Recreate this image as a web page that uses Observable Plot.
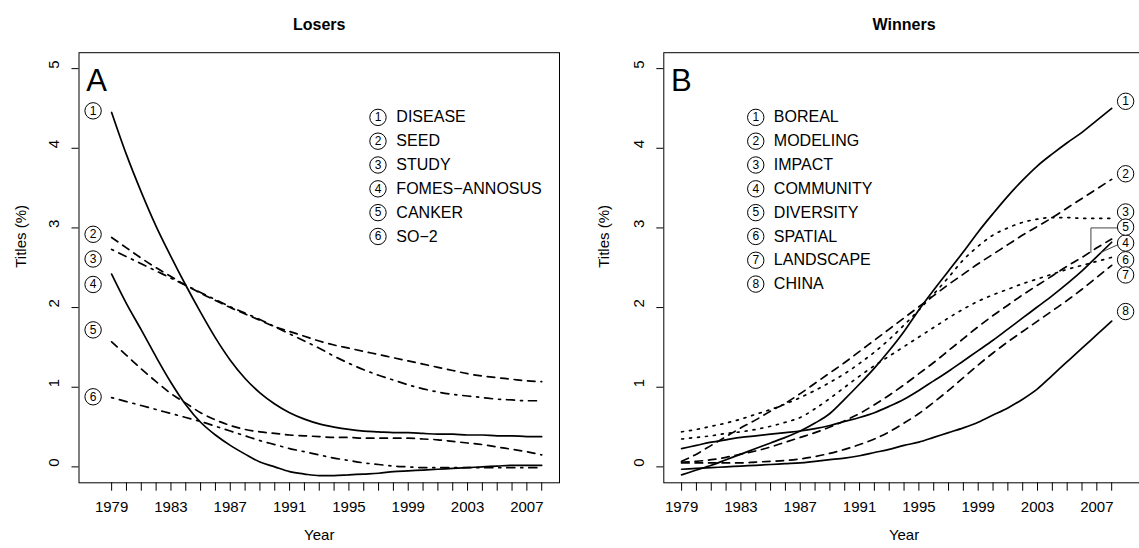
<!DOCTYPE html>
<html><head><meta charset="utf-8">
<script src="https://cdn.jsdelivr.net/npm/d3@7"></script>
<script src="https://cdn.jsdelivr.net/npm/@observablehq/plot@0.6"></script>
<style>
html,body{margin:0;padding:0;background:#fff;overflow:hidden;}
#wrap{position:relative;width:1139px;height:548px;overflow:hidden;background:#fff;}
#wrap svg{position:absolute;top:0;max-width:none;}
</style></head><body><div id="wrap"></div>
<script>
// ---------- data ----------
const years = [1979,1980,1981,1982,1983,1984,1985,1986,1987,1988,1989,1990,1991,1992,1993,1994,1995,1996,1997,1998,1999,2000,2001,2002,2003,2004,2005,2006,2007,2008];
const xTickLabels = [1979,1983,1987,1991,1995,1999,2003,2007];
const yTicks = [0,1,2,3,4,5];

// Losers (panel A)
const loserNames = ["DISEASE","SEED","STUDY","FOMES\u2212ANNOSUS","CANKER","SO\u22122"];
const disease = [4.45,3.92,3.45,3.02,2.64,2.28,1.94,1.62,1.34,1.11,0.93,0.79,0.68,0.60,0.54,0.50,0.47,0.45,0.44,0.43,0.43,0.42,0.41,0.41,0.40,0.40,0.39,0.39,0.38,0.38];
const seed    = [2.88,2.75,2.62,2.50,2.39,2.28,2.18,2.09,2.00,1.92,1.84,1.76,1.70,1.64,1.58,1.53,1.49,1.45,1.41,1.37,1.33,1.29,1.25,1.21,1.17,1.14,1.12,1.10,1.08,1.07];
const study   = [2.73,2.64,2.55,2.46,2.37,2.28,2.19,2.10,2.01,1.93,1.85,1.76,1.67,1.58,1.49,1.39,1.30,1.22,1.15,1.09,1.03,0.98,0.94,0.91,0.89,0.87,0.85,0.84,0.83,0.83];
const fomes   = [2.42,2.05,1.72,1.38,1.06,0.78,0.56,0.40,0.27,0.16,0.06,0.00,-0.06,-0.09,-0.11,-0.11,-0.10,-0.09,-0.08,-0.06,-0.05,-0.04,-0.03,-0.02,-0.01,0.00,0.01,0.02,0.02,0.02];
const canker  = [1.57,1.40,1.23,1.07,0.92,0.80,0.68,0.59,0.52,0.47,0.44,0.42,0.40,0.39,0.38,0.37,0.37,0.36,0.36,0.36,0.36,0.35,0.34,0.32,0.30,0.28,0.25,0.22,0.19,0.15];
const so2     = [0.87,0.82,0.77,0.72,0.67,0.62,0.57,0.51,0.45,0.39,0.33,0.28,0.23,0.19,0.15,0.11,0.08,0.05,0.03,0.01,0.00,-0.01,-0.01,-0.01,-0.01,-0.01,-0.01,-0.01,-0.01,-0.01];
const loserLabelValues = [4.47,2.92,2.61,2.29,1.72,0.88];

// Winners (panel B)
const winnerNames = ["BOREAL","MODELING","IMPACT","COMMUNITY","DIVERSITY","SPATIAL","LANDSCAPE","CHINA"];
const boreal    = [-0.10,-0.04,0.02,0.09,0.16,0.23,0.30,0.37,0.45,0.55,0.67,0.85,1.04,1.24,1.46,1.70,1.97,2.22,2.46,2.70,2.95,3.18,3.40,3.60,3.78,3.93,4.07,4.20,4.35,4.50];
const modeling  = [0.07,0.16,0.27,0.38,0.49,0.59,0.70,0.80,0.92,1.05,1.18,1.31,1.45,1.59,1.73,1.87,2.01,2.15,2.29,2.42,2.55,2.67,2.79,2.91,3.02,3.13,3.25,3.37,3.49,3.61];
const impact    = [0.44,0.47,0.51,0.55,0.60,0.66,0.72,0.79,0.87,0.96,1.06,1.17,1.30,1.44,1.60,1.78,1.97,2.17,2.38,2.60,2.77,2.91,3.00,3.07,3.11,3.13,3.13,3.12,3.12,3.12];
const community = [0.23,0.27,0.31,0.34,0.37,0.39,0.41,0.43,0.45,0.48,0.52,0.57,0.62,0.68,0.76,0.85,0.96,1.08,1.20,1.33,1.46,1.59,1.73,1.87,2.01,2.15,2.30,2.46,2.64,2.82];
const diversity = [0.06,0.07,0.09,0.12,0.16,0.20,0.25,0.31,0.37,0.43,0.50,0.58,0.67,0.78,0.90,1.03,1.17,1.31,1.46,1.61,1.76,1.90,2.03,2.16,2.28,2.40,2.52,2.63,2.75,2.86];
const spatial   = [0.35,0.37,0.39,0.42,0.44,0.47,0.51,0.56,0.62,0.73,0.86,1.00,1.14,1.27,1.39,1.51,1.63,1.75,1.87,1.98,2.08,2.16,2.23,2.30,2.36,2.42,2.48,2.53,2.58,2.63];
const landscape = [0.05,0.05,0.05,0.05,0.05,0.06,0.07,0.08,0.10,0.13,0.17,0.22,0.28,0.35,0.44,0.55,0.67,0.81,0.96,1.12,1.28,1.43,1.57,1.70,1.83,1.96,2.09,2.23,2.38,2.53];
const china     = [-0.03,-0.02,-0.01,0.00,0.01,0.02,0.03,0.04,0.05,0.07,0.09,0.11,0.14,0.18,0.22,0.27,0.31,0.37,0.43,0.49,0.56,0.65,0.74,0.85,0.98,1.15,1.32,1.49,1.66,1.83];
const winnerLabelValues = [4.59,3.68,3.20,2.81,3.01,2.60,2.41,1.95];
// leader lines for labels 5 and 4 (year, value)
const diversityLeader = [[2008.4,3.0],[2006.6,3.0],[2006.6,2.69]];
const communityLeader = [[2007.25,2.69],[2008.42,2.79]];

// ---------- styles ----------
const FONT = '"Liberation Sans", Arial, Helvetica, sans-serif';
const DASH = {solid: null, dashed: "7.5,6", dotted: "2,6", dotdash: "2,6,8,6"};
const loserLty  = ["solid","dashed","dotdash","solid","dashed","dotdash"];
const winnerLty = ["solid","dashed","dotted","solid","dashed","dotted","dashed","solid"];

function panel(o) {
  const lineMarks = o.series.map((vals, i) => Plot.line(
    years.map((yr, j) => ({year: yr, v: vals[j]})),
    {x: "year", y: "v", stroke: "black", strokeWidth: 1.7, curve: "monotone-x",
     strokeDasharray: DASH[o.lty[i]] ?? undefined}));
  const labels = o.labelValues.map((v, i) => ({x: o.labelX, y: v, t: String(i + 1)}));
  const legend = o.names.map((n, i) => ({y: o.legendTop - i * o.legendStep, name: n, t: String(i + 1)}));
  return Plot.plot({
    width: 580, height: 548,
    marginLeft: o.marginLeft, marginRight: o.marginRight, marginTop: 52.2, marginBottom: 65.7,
    x: {domain: o.xDomain, label: null},
    y: {domain: [-0.2, 5.2], label: null},
    style: {fontFamily: FONT, fontSize: "15px", background: "white", color: "black", overflow: "visible"},
    marks: [
      Plot.axisX({ticks: years, tickSize: 8.4, tickPadding: 10, label: null,
        tickFormat: d => xTickLabels.includes(d) ? String(d) : "", fontSize: 15}),
      Plot.axisY({ticks: yTicks, tickSize: 7, label: null, tickFormat: () => ""}),
      Plot.text(yTicks, {y: d => d, text: d => String(d), frameAnchor: "left", dx: -25, rotate: -90, fontSize: 15}),
      ...lineMarks,
      ...(o.extra || []),
      Plot.dot(labels, {x: "x", y: "y", r: 8.2, stroke: "black", strokeWidth: 1, fill: "white"}),
      Plot.text(labels, {x: "x", y: "y", text: "t", fontSize: 12}),
      Plot.dot(legend, {x: () => o.legendX, y: "y", r: 8.2, stroke: "black", strokeWidth: 1, fill: "white"}),
      Plot.text(legend, {x: () => o.legendX, y: "y", text: "t", fontSize: 12}),
      Plot.text(legend, {x: () => o.legendTextX, y: "y", text: "name", textAnchor: "start", fontSize: 16}),
      Plot.text([o.letter], {text: d => d, frameAnchor: "top-left", textAnchor: "start", lineAnchor: "top", dx: 7.2, dy: 16.6, fontSize: 31}),
      Plot.text([o.title], {text: d => d, frameAnchor: "top", dy: -34, fontWeight: "bold", fontSize: 16}),
      Plot.text(["Year"], {text: d => d, frameAnchor: "bottom", dy: 57, fontSize: 15}),
      Plot.text(["Titles (%)"], {text: d => d, frameAnchor: "left", rotate: -90, dx: o.ylabDx, fontSize: 15}),
      Plot.frame({stroke: "black", strokeWidth: 1})
    ]
  });
}

const wrap = document.getElementById("wrap");

const left = panel({
  series: [disease, seed, study, fomes, canker, so2], names: loserNames, lty: loserLty,
  labelValues: loserLabelValues, labelX: 1977.75,
  legendX: 1996.96, legendTextX: 1998.2, legendTop: 4.388, legendStep: 0.299,
  xDomain: [1976.8, 2009.2], marginLeft: 78.5, marginRight: 21,
  letter: "A", title: "Losers", ylabDx: -57.5
});
left.style.left = "0px";
wrap.appendChild(left);

const leaderMarks = [
  Plot.line(diversityLeader, {x: d => d[0], y: d => d[1], stroke: "#444", strokeWidth: 1}),
  Plot.line(communityLeader, {x: d => d[0], y: d => d[1], stroke: "#444", strokeWidth: 1})
];
const right = panel({
  series: [boreal, modeling, impact, community, diversity, spatial, landscape, china], names: winnerNames, lty: winnerLty,
  labelValues: winnerLabelValues, labelX: 2008.94,
  legendX: 1984.0, legendTextX: 1985.22, legendTop: 4.388, legendStep: 0.299,
  xDomain: [1977.8, 2010.2], marginLeft: 83.3, marginRight: 16.2,
  letter: "B", title: "Winners", ylabDx: -60, extra: leaderMarks
});
right.style.left = "580px";
wrap.appendChild(right);
</script>
</body></html>
